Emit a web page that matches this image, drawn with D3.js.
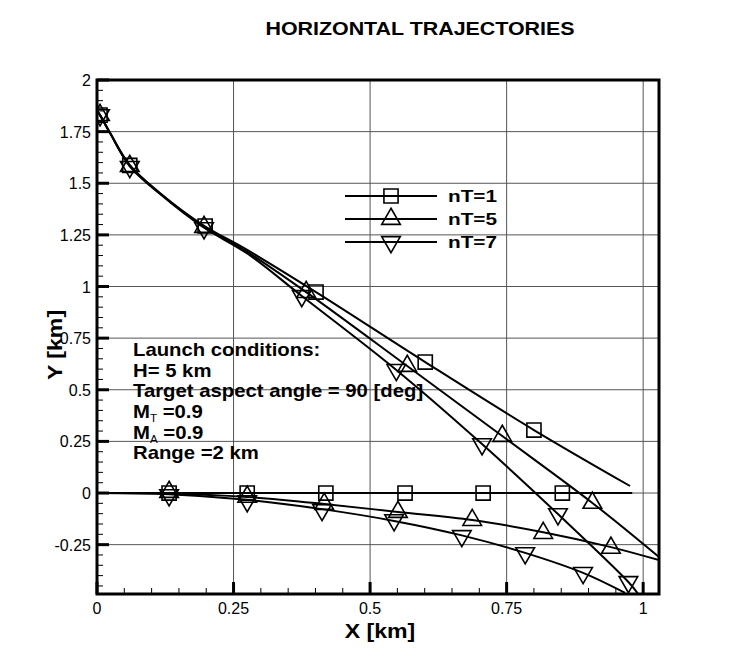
<!DOCTYPE html>
<html>
<head>
<meta charset="utf-8">
<script src="https://cdn.jsdelivr.net/npm/d3@7"></script>
<style>
  body { margin: 0; background: #fff; }
  text { font-family: "Liberation Sans", Arial, sans-serif; }
</style>
</head>
<body>
<script>
// values, in km
const xTicks = [0, 0.25, 0.5, 0.75, 1]
const yTicks = [-0.25, 0, 0.25, 0.5, 0.75, 1, 1.25, 1.5, 1.75, 2]

const missile1 = [[0, 1.85], [0.0055, 1.83], [0.024, 1.743], [0.06, 1.588], [0.115, 1.453], [0.194, 1.298], [0.275, 1.177], [0.401, 0.973], [0.601, 0.634], [0.8, 0.305], [0.976, 0.034]]
const missile1Marks = [[0.0055, 1.83], [0.06, 1.586], [0.198, 1.293], [0.401, 0.973], [0.601, 0.634], [0.8, 0.305]]

const missile5 = [[0, 1.85], [0.0055, 1.83], [0.024, 1.743], [0.06, 1.586], [0.115, 1.452], [0.194, 1.294], [0.275, 1.168], [0.383, 0.973], [0.568, 0.615], [0.742, 0.276], [0.907, -0.048], [1.029, -0.31]]
const missile5Marks = [[0.0055, 1.83], [0.06, 1.583], [0.196, 1.288], [0.383, 0.973], [0.568, 0.615], [0.742, 0.276], [0.907, -0.048]]

const missile7 = [[0, 1.85], [0.0055, 1.83], [0.024, 1.743], [0.06, 1.582], [0.115, 1.449], [0.194, 1.288], [0.275, 1.16], [0.375, 0.954], [0.548, 0.596], [0.705, 0.237], [0.844, -0.102], [0.973, -0.431], [0.991, -0.489]]
const missile7Marks = [[0.0055, 1.83], [0.06, 1.579], [0.196, 1.283], [0.375, 0.954], [0.548, 0.596], [0.705, 0.237], [0.844, -0.102], [0.973, -0.431]]

const target1 = [[0, 0], [0.98, 0]]
const target1Marks = [[0.132, 0], [0.275, 0], [0.419, 0], [0.564, 0], [0.707, 0], [0.852, 0]]

const target5 = [[0, 0], [0.132, -0.002], [0.275, -0.019], [0.416, -0.053], [0.551, -0.092], [0.687, -0.131], [0.817, -0.19], [0.941, -0.262], [1.029, -0.325]]
const target5Marks = [[0.132, 0.005], [0.275, -0.019], [0.416, -0.053], [0.551, -0.092], [0.687, -0.131], [0.817, -0.194], [0.941, -0.266]]

const target7 = [[0, 0], [0.132, -0.006], [0.275, -0.033], [0.412, -0.078], [0.544, -0.135], [0.668, -0.205], [0.784, -0.29], [0.89, -0.387], [0.967, -0.484]]
const target7Marks = [[0.132, -0.01], [0.275, -0.039], [0.412, -0.082], [0.544, -0.131], [0.668, -0.208], [0.784, -0.291], [0.89, -0.387]]

const legendNames = ['nT=1', 'nT=5', 'nT=7']
const launchLines = ['Launch conditions:', 'H= 5 km', 'Target aspect angle = 90 [deg]']

const width = 750, height = 667
const margin = {top: 80, left: 97, right: 91, bottom: 73}

const svg = d3.select('body').append('svg')
  .attr('width', width)
  .attr('height', height)

const x = d3.scaleLinear().domain([0, 1.029]).range([margin.left, width - margin.right])
const y = d3.scaleLinear().domain([-0.489, 2]).range([height - margin.bottom, margin.top])

// grid
svg.append('g').selectAll('line').data(xTicks.filter(d => d > 0)).enter().append('line')
  .attr('x1', d => x(d)).attr('x2', d => x(d))
  .attr('y1', y.range()[1]).attr('y2', y.range()[0])
  .attr('stroke', '#555').attr('stroke-width', 1)
svg.append('g').selectAll('line').data(yTicks.filter(d => d < 2)).enter().append('line')
  .attr('x1', x.range()[0]).attr('x2', x.range()[1])
  .attr('y1', d => y(d)).attr('y2', d => y(d))
  .attr('stroke', '#555').attr('stroke-width', 1)

// curves
const line = d3.line().x(d => x(d[0])).y(d => y(d[1])).curve(d3.curveCatmullRom)
const plot = svg.append('g')
  .attr('clip-path', 'url(#clip)')
svg.append('clipPath').attr('id', 'clip').append('rect')
  .attr('x', x.range()[0]).attr('y', y.range()[1])
  .attr('width', x.range()[1] - x.range()[0]).attr('height', y.range()[0] - y.range()[1])

const curves = [missile1, missile5, missile7, target1, target5, target7]
plot.selectAll('path.curve').data(curves).enter().append('path')
  .attr('class', 'curve')
  .attr('d', line)
  .attr('fill', 'none')
  .attr('stroke', '#000')
  .attr('stroke-width', 2)

const square = d3.symbol().type(d3.symbolSquare).size(200)
const tri = d3.symbol().type(d3.symbolTriangle).size(150)

const markSets = [
  {pts: missile1Marks.concat(target1Marks), sym: square, rot: 0},
  {pts: missile5Marks.concat(target5Marks), sym: tri, rot: 0},
  {pts: missile7Marks.concat(target7Marks), sym: tri, rot: 180}
]
markSets.forEach(s => {
  plot.append('g').selectAll('path').data(s.pts).enter().append('path')
    .attr('d', s.sym)
    .attr('transform', d => `translate(${x(d[0])},${y(d[1])}) rotate(${s.rot})`)
    .attr('fill', 'none')
    .attr('stroke', '#000')
    .attr('stroke-width', 1.6)
})

// frame
svg.append('rect')
  .attr('x', x.range()[0]).attr('y', y.range()[1])
  .attr('width', x.range()[1] - x.range()[0]).attr('height', y.range()[0] - y.range()[1])
  .attr('fill', 'none').attr('stroke', '#000').attr('stroke-width', 3)

// ticks (inward)
const xMinor = d3.range(0.05, 1.03, 0.05).filter(v => Math.abs(v * 4 - Math.round(v * 4)) > 1e-6)
const yMinor = d3.range(-0.45, 2, 0.05).filter(v => Math.abs(v * 4 - Math.round(v * 4)) > 1e-6)
svg.append('g').selectAll('line').data(xTicks).enter().append('line')
  .attr('x1', d => x(d)).attr('x2', d => x(d))
  .attr('y1', y.range()[0]).attr('y2', y.range()[0] - 12)
  .attr('stroke', '#000').attr('stroke-width', 3)
svg.append('g').selectAll('line').data(xMinor).enter().append('line')
  .attr('x1', d => x(d)).attr('x2', d => x(d))
  .attr('y1', y.range()[0]).attr('y2', y.range()[0] - 6)
  .attr('stroke', '#000').attr('stroke-width', 1)
svg.append('g').selectAll('line').data(yTicks).enter().append('line')
  .attr('x1', x.range()[0]).attr('x2', x.range()[0] + 12)
  .attr('y1', d => y(d)).attr('y2', d => y(d))
  .attr('stroke', '#000').attr('stroke-width', 3)
svg.append('g').selectAll('line').data(yMinor).enter().append('line')
  .attr('x1', x.range()[0]).attr('x2', x.range()[0] + 6)
  .attr('y1', d => y(d)).attr('y2', d => y(d))
  .attr('stroke', '#000').attr('stroke-width', 1)

// tick labels
svg.append('g').selectAll('text').data(xTicks).enter().append('text')
  .attr('x', d => x(d)).attr('y', y.range()[0] + 20)
  .attr('text-anchor', 'middle')
  .attr('font-size', 16)
  .text(d => d)
svg.append('g').selectAll('text').data(yTicks).enter().append('text')
  .attr('x', x.range()[0] - 6).attr('y', d => y(d) + 6)
  .attr('text-anchor', 'end')
  .attr('font-size', 16)
  .text(d => d)

// titles (the original font is wider than Arial, so stretch a little)
svg.append('text')
  .attr('transform', 'translate(420,35) scale(1.19,1)')
  .attr('text-anchor', 'middle')
  .attr('font-size', 18).attr('font-weight', 'bold')
  .text('HORIZONTAL TRAJECTORIES')
svg.append('text')
  .attr('transform', 'translate(380,638) scale(1.1,1)')
  .attr('text-anchor', 'middle')
  .attr('font-size', 21).attr('font-weight', 'bold')
  .text('X [km]')
svg.append('text')
  .attr('transform', 'translate(62,345) rotate(-90) scale(1.1,1)')
  .attr('text-anchor', 'middle')
  .attr('font-size', 21).attr('font-weight', 'bold')
  .text('Y [km]')

// legend
const legend = svg.append('g')
legendNames.forEach((name, i) => {
  const ly = 196 + i * 23
  legend.append('line')
    .attr('x1', 345).attr('x2', 437).attr('y1', ly).attr('y2', ly)
    .attr('stroke', '#000').attr('stroke-width', 2)
  legend.append('path')
    .attr('d', i === 0 ? square : tri)
    .attr('transform', `translate(391,${ly}) rotate(${i === 2 ? 180 : 0})`)
    .attr('fill', 'none').attr('stroke', '#000').attr('stroke-width', 1.6)
  legend.append('text')
    .attr('transform', `translate(448,${ly + 6}) scale(1.22,1)`)
    .attr('font-size', 17).attr('font-weight', 'bold')
    .text(name)
})

// launch conditions
const noteText = ly => svg.append('text')
  .attr('transform', `translate(133,${ly}) scale(1.16,1)`)
  .attr('font-size', 17.5).attr('font-weight', 'bold')
launchLines.forEach((t, i) => {
  noteText(356 + i * 20.6).text(t)
})
const mLines = [['T', '0.9'], ['A', '0.9']]
mLines.forEach((m, i) => {
  const t = noteText(418 + i * 20.6)
  t.append('tspan').text('M')
  t.append('tspan').attr('dy', 4).attr('font-size', 10).attr('font-weight', 'normal').text(m[0])
  t.append('tspan').attr('dy', -4).text(' =' + m[1])
})
noteText(459).text('Range =2 km')
</script>
</body>
</html>
